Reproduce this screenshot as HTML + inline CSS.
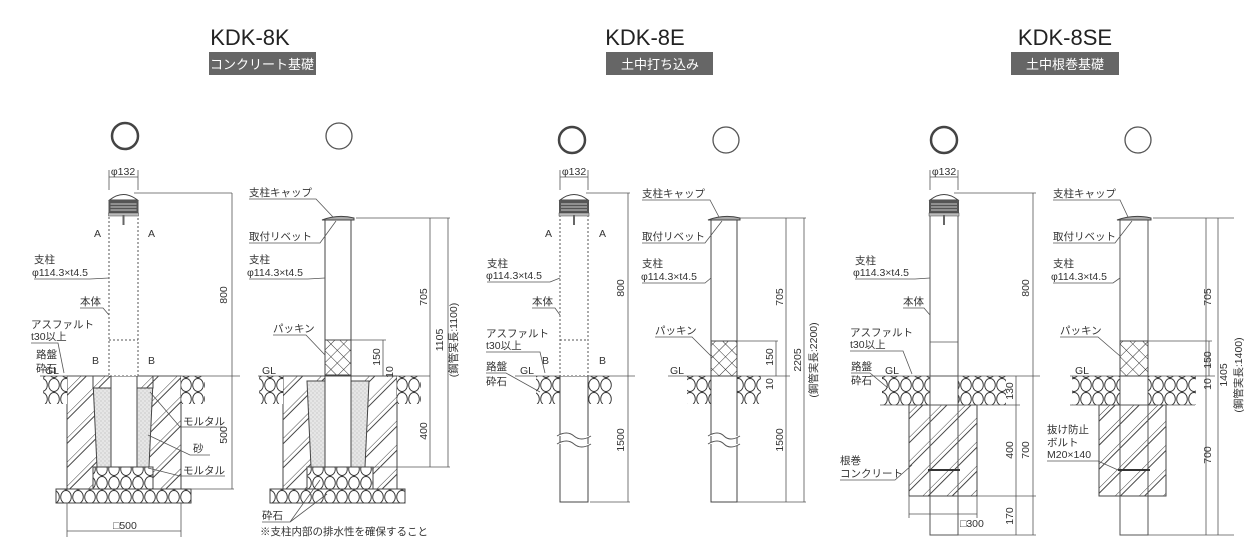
<!DOCTYPE html>
<html><head><meta charset="utf-8"><style>
html,body{margin:0;padding:0;background:#fff;}
svg{display:block;font-family:"Liberation Sans","Noto Sans CJK JP",sans-serif;}
.t{font-size:10.5px;fill:#333;}
.ttl{font-size:22px;fill:#222;}
.bd{font-size:13px;fill:#fff;}
.l{stroke:#555;stroke-width:0.8;fill:none;}
.p{stroke:#444;stroke-width:1;fill:#fff;}
</style></head><body>
<svg width="1248" height="549" viewBox="0 0 1248 549" xmlns="http://www.w3.org/2000/svg">
<defs>
<pattern id="gv" width="12" height="14" patternUnits="userSpaceOnUse">
<rect width="12" height="14" fill="#fff"/>
<ellipse cx="6" cy="7" rx="5.3" ry="6.5" fill="none" stroke="#333" stroke-width="0.9"/>
</pattern>
<pattern id="ht" width="17" height="17" patternUnits="userSpaceOnUse" patternTransform="rotate(45)">
<rect width="17" height="17" fill="#fff"/>
<line x1="0" y1="0" x2="0" y2="17" stroke="#444" stroke-width="1"/>
<line x1="4" y1="0" x2="4" y2="17" stroke="#444" stroke-width="1"/>
</pattern>
<pattern id="sd" width="4" height="4" patternUnits="userSpaceOnUse">
<rect width="4" height="4" fill="#e6e6e6"/><circle cx="1" cy="1" r="0.5" fill="#999"/><circle cx="3" cy="3" r="0.5" fill="#aaa"/>
</pattern>
<pattern id="cr" width="9" height="9" patternUnits="userSpaceOnUse" patternTransform="rotate(45)">
<rect width="9" height="9" fill="#fff"/>
<line x1="0" y1="0" x2="9" y2="0" stroke="#333" stroke-width="1"/>
<line x1="0" y1="0" x2="0" y2="9" stroke="#333" stroke-width="1"/>
</pattern>
<g id="cap">
<path d="M-14,7 Q0,-4 14,7 Z" fill="#fff" stroke="#444"/>
<rect x="-15" y="7" width="30" height="15" fill="#555"/>
<line x1="-13" y1="11" x2="13" y2="11" stroke="#ccc"/><line x1="-13" y1="14" x2="13" y2="14" stroke="#ccc"/><line x1="-13" y1="17" x2="13" y2="17" stroke="#ccc"/>
<rect x="-15" y="20" width="30" height="3" fill="#bbb" stroke="#444" stroke-width="0.5"/>
<line x1="0" y1="22" x2="0" y2="32" stroke="#666" stroke-width="2"/>
</g>
</defs>

<text x="250" y="45" text-anchor="middle" class="ttl">KDK-8K</text>
<rect x="209" y="52" width="107" height="23" fill="#666"/>
<text x="262" y="69" text-anchor="middle" class="bd">コンクリート基礎</text>
<text x="645" y="45" text-anchor="middle" class="ttl">KDK-8E</text>
<rect x="606" y="52" width="107" height="23" fill="#666"/>
<text x="660" y="69" text-anchor="middle" class="bd">土中打ち込み</text>
<text x="1065" y="45" text-anchor="middle" class="ttl">KDK-8SE</text>
<rect x="1011" y="52" width="108" height="23" fill="#666"/>
<text x="1065" y="69" text-anchor="middle" class="bd">土中根巻基礎</text>

<circle cx="125" cy="136" r="13" fill="none" stroke="#444" stroke-width="2.5"/>
<circle cx="339" cy="136" r="13" fill="none" stroke="#555" stroke-width="1.3"/>
<circle cx="572" cy="140" r="13" fill="none" stroke="#444" stroke-width="2.5"/>
<circle cx="726" cy="140" r="13" fill="none" stroke="#555" stroke-width="1.3"/>
<circle cx="944" cy="140" r="13" fill="none" stroke="#444" stroke-width="2.5"/>
<circle cx="1138" cy="140" r="13" fill="none" stroke="#555" stroke-width="1.3"/>

<!-- PANEL 1 -->
<g>
<rect x="56" y="489" width="135" height="14" fill="url(#gv)" stroke="#444"/>
<rect x="67" y="376" width="114" height="113" fill="url(#ht)" stroke="#444"/>
<path d="M93,381 L153,381 L149,467 L97,467 Z" fill="url(#sd)" stroke="#444"/>
<rect x="93" y="467" width="60" height="22" fill="url(#gv)" stroke="#444"/>
<rect x="93" y="376" width="60" height="12" fill="url(#ht)" stroke="#444"/>
<rect x="111" y="376" width="26" height="91" fill="#fff" stroke="#444"/>
<rect x="43" y="376" width="24" height="28" fill="url(#gv)"/>
<rect x="181" y="376" width="24" height="28" fill="url(#gv)"/>
<line x1="40" y1="376" x2="240" y2="376" class="l"/>
<rect x="109" y="215" width="29" height="161" fill="#fff" stroke="#555" stroke-dasharray="2,2"/>
<line x1="109" y1="340" x2="138" y2="340" stroke="#555" stroke-dasharray="2,2"/>
<use href="#cap" x="123.5" y="193"/>
<line x1="109" y1="170" x2="109" y2="190" class="l"/><line x1="138" y1="170" x2="138" y2="190" class="l"/>
<line x1="109" y1="177" x2="138" y2="177" class="l"/>
<text x="123" y="175" text-anchor="middle" class="t">φ132</text>
<text x="94" y="237" class="t">A</text><text x="148" y="237" class="t">A</text>
<text x="92" y="364" class="t">B</text><text x="148" y="364" class="t">B</text>
<line x1="134" y1="193" x2="232" y2="193" class="l"/>
<line x1="232" y1="193" x2="232" y2="489" class="l"/>
<line x1="191" y1="489" x2="234" y2="489" class="l"/>
<text transform="translate(227,295) rotate(-90)" text-anchor="middle" class="t">800</text>
<text transform="translate(227,435) rotate(-90)" text-anchor="middle" class="t">500</text>
<line x1="67" y1="503" x2="67" y2="537" class="l"/><line x1="181" y1="503" x2="181" y2="537" class="l"/>
<line x1="67" y1="531" x2="181" y2="531" class="l"/>
<text x="113" y="529" class="t">□500</text>
<text x="34" y="263" class="t">支柱</text><text x="32" y="276" class="t">φ114.3×t4.5</text>
<path d="M34,279 L90,279 L109,278" class="l"/>
<text x="80" y="305" class="t">本体</text><path d="M80,308 L103,308 L109,315" class="l"/>
<text x="31" y="328" class="t">アスファルト</text><text x="31" y="340" class="t">t30以上</text>
<path d="M31,343 L58,343 L64,373" class="l"/>
<text x="36" y="358" class="t">路盤</text><text x="36" y="372" class="t">砕石</text>
<text x="45" y="374" class="t">GL</text>
<text x="183" y="425" class="t">モルタル</text><path d="M150,392 L180,427 L225,427" class="l"/>
<text x="193" y="452" class="t">砂</text><path d="M148,435 L190,455 L210,455" class="l"/>
<text x="183" y="474" class="t">モルタル</text><path d="M148,468 L180,476 L225,476" class="l"/>
</g>

<!-- PANEL 2 -->
<g>
<rect x="270" y="489" width="135" height="14" fill="url(#gv)" stroke="#444"/>
<rect x="283" y="376" width="114" height="113" fill="url(#ht)" stroke="#444"/>
<path d="M307,381 L325,381 L325,467 L311,467 Z" fill="url(#sd)" stroke="#444"/>
<path d="M351,381 L369,381 L365,467 L351,467 Z" fill="url(#sd)" stroke="#444"/>
<rect x="307" y="467" width="66" height="22" fill="url(#gv)" stroke="#444"/>
<rect x="325" y="376" width="26" height="91" fill="#fff" stroke="#444"/>
<rect x="259" y="376" width="24" height="28" fill="url(#gv)"/>
<rect x="397" y="376" width="24" height="28" fill="url(#gv)"/>
<line x1="258" y1="376" x2="430" y2="376" class="l"/>
<rect x="325" y="220" width="26" height="156" class="p"/>
<rect x="325" y="340" width="26" height="35" fill="url(#cr)" stroke="#444"/>
<path d="M322,220 Q338,214 354,218 L354,220 Z" fill="#aaa" stroke="#444"/>
<line x1="356" y1="218" x2="450" y2="218" class="l"/>
<line x1="430" y1="218" x2="430" y2="467" class="l"/>
<line x1="448" y1="218" x2="448" y2="467" class="l"/>
<line x1="369" y1="467" x2="450" y2="467" class="l"/>
<line x1="351" y1="340" x2="386" y2="340" class="l"/>
<line x1="383" y1="340" x2="383" y2="376" class="l"/>
<text transform="translate(427,297) rotate(-90)" text-anchor="middle" class="t">705</text>
<text transform="translate(443,340) rotate(-90)" text-anchor="middle" class="t">1105</text>
<text transform="translate(457,340) rotate(-90)" text-anchor="middle" class="t">(鋼管実長:1100)</text>
<text transform="translate(380,357) rotate(-90)" text-anchor="middle" class="t">150</text>
<text transform="translate(393,372) rotate(-90)" text-anchor="middle" class="t">10</text>
<text transform="translate(427,431) rotate(-90)" text-anchor="middle" class="t">400</text>
<text x="249" y="196" class="t">支柱キャップ</text><path d="M249,199 L316,199 L333,217" class="l"/>
<text x="249" y="240" class="t">取付リベット</text><path d="M249,243 L320,243 L336,221" class="l"/>
<text x="249" y="263" class="t">支柱</text><text x="247" y="276" class="t">φ114.3×t4.5</text>
<path d="M249,279 L308,279 L325,278" class="l"/>
<text x="273" y="332" class="t">パッキン</text><path d="M273,335 L306,335 L325,355" class="l"/>
<text x="262" y="374" class="t">GL</text>
<text x="262" y="519" class="t">砕石</text><path d="M262,522 L290,522 L320,480 M290,522 L327,494" class="l"/>
<text x="260" y="535" class="t">※支柱内部の排水性を確保すること</text>
</g>

<!-- PANEL 3 -->
<g>
<rect x="536" y="376" width="24" height="28" fill="url(#gv)"/>
<rect x="588" y="376" width="24" height="28" fill="url(#gv)"/>
<line x1="515" y1="376" x2="635" y2="376" class="l"/>
<rect x="560" y="376" width="28" height="126" class="p"/>
<path d="M557,436 Q567,430 574,436 T591,436 M557,444 Q567,438 574,444 T591,444" stroke="#555" fill="#fff"/>
<rect x="560" y="215" width="28" height="161" fill="#fff" stroke="#555" stroke-dasharray="2,2"/>
<line x1="560" y1="340" x2="588" y2="340" stroke="#555" stroke-dasharray="2,2"/>
<use href="#cap" x="574" y="193"/>
<line x1="560" y1="170" x2="560" y2="190" class="l"/><line x1="588" y1="170" x2="588" y2="190" class="l"/>
<line x1="560" y1="177" x2="588" y2="177" class="l"/>
<text x="574" y="175" text-anchor="middle" class="t">φ132</text>
<text x="545" y="237" class="t">A</text><text x="599" y="237" class="t">A</text>
<text x="542" y="364" class="t">B</text><text x="599" y="364" class="t">B</text>
<line x1="586" y1="193" x2="630" y2="193" class="l"/>
<line x1="628" y1="193" x2="628" y2="502" class="l"/>
<line x1="590" y1="502" x2="630" y2="502" class="l"/>
<text transform="translate(624,288) rotate(-90)" text-anchor="middle" class="t">800</text>
<text transform="translate(624,440) rotate(-90)" text-anchor="middle" class="t">1500</text>
<text x="487" y="267" class="t">支柱</text><text x="486" y="279" class="t">φ114.3×t4.5</text>
<path d="M487,282 L550,282 L560,278" class="l"/>
<text x="532" y="305" class="t">本体</text><path d="M532,308 L555,308 L560,315" class="l"/>
<text x="486" y="337" class="t">アスファルト</text><text x="486" y="349" class="t">t30以上</text>
<path d="M486,352 L540,352 L545,373" class="l"/>
<text x="486" y="370" class="t">路盤</text><text x="486" y="385" class="t">砕石</text>
<path d="M486,373 L506,373 L540,392" class="l"/>
<text x="520" y="374" class="t">GL</text>
</g>

<!-- PANEL 4 -->
<g>
<rect x="687" y="376" width="24" height="28" fill="url(#gv)"/>
<rect x="737" y="376" width="24" height="28" fill="url(#gv)"/>
<line x1="668" y1="376" x2="790" y2="376" class="l"/>
<rect x="711" y="220" width="26" height="282" class="p"/>
<path d="M708,436 Q718,430 724,436 T740,436 M708,444 Q718,438 724,444 T740,444" stroke="#555" fill="#fff"/>
<rect x="711" y="341" width="26" height="35" fill="url(#cr)" stroke="#444"/>
<path d="M708,220 Q724,214 740,218 L740,220 Z" fill="#aaa" stroke="#444"/>
<line x1="740" y1="218" x2="806" y2="218" class="l"/>
<line x1="786" y1="218" x2="786" y2="502" class="l"/>
<line x1="804" y1="218" x2="804" y2="502" class="l"/>
<line x1="737" y1="502" x2="806" y2="502" class="l"/>
<line x1="737" y1="341" x2="778" y2="341" class="l"/>
<line x1="776" y1="341" x2="776" y2="376" class="l"/>
<text transform="translate(783,297) rotate(-90)" text-anchor="middle" class="t">705</text>
<text transform="translate(801,360) rotate(-90)" text-anchor="middle" class="t">2205</text>
<text transform="translate(817,360) rotate(-90)" text-anchor="middle" class="t">(鋼管実長:2200)</text>
<text transform="translate(773,357) rotate(-90)" text-anchor="middle" class="t">150</text>
<text transform="translate(773,384) rotate(-90)" text-anchor="middle" class="t">10</text>
<text transform="translate(783,440) rotate(-90)" text-anchor="middle" class="t">1500</text>
<text x="642" y="197" class="t">支柱キャップ</text><path d="M642,200 L710,200 L719,217" class="l"/>
<text x="642" y="240" class="t">取付リベット</text><path d="M642,243 L705,243 L722,221" class="l"/>
<text x="642" y="267" class="t">支柱</text><text x="641" y="280" class="t">φ114.3×t4.5</text>
<path d="M642,283 L705,283 L711,278" class="l"/>
<text x="655" y="334" class="t">パッキン</text><path d="M655,337 L692,337 L711,356" class="l"/>
<text x="670" y="374" class="t">GL</text>
</g>

<!-- PANEL 5 -->
<g>
<rect x="882" y="376" width="48" height="29" fill="url(#gv)"/>
<rect x="958" y="376" width="48" height="29" fill="url(#gv)"/>
<rect x="909" y="405" width="68" height="91" fill="url(#ht)" stroke="#444"/>
<line x1="870" y1="376" x2="1040" y2="376" class="l"/>
<line x1="880" y1="405" x2="1020" y2="405" class="l"/>
<rect x="930" y="200" width="28" height="335" fill="none" stroke="#555"/>
<line x1="930" y1="342" x2="958" y2="342" class="l"/>
<rect x="930" y="376" width="28" height="29" fill="#fff" stroke="#555"/>
<line x1="928" y1="470" x2="960" y2="470" stroke="#333" stroke-width="2"/>
<use href="#cap" x="944" y="193"/>
<line x1="930" y1="170" x2="930" y2="190" class="l"/><line x1="958" y1="170" x2="958" y2="190" class="l"/>
<line x1="930" y1="177" x2="958" y2="177" class="l"/>
<text x="944" y="175" text-anchor="middle" class="t">φ132</text>
<line x1="954" y1="193" x2="1036" y2="193" class="l"/>
<line x1="1033" y1="193" x2="1033" y2="535" class="l"/>
<line x1="1016" y1="376" x2="1016" y2="535" class="l"/>
<line x1="977" y1="496" x2="1036" y2="496" class="l"/>
<line x1="958" y1="535" x2="1036" y2="535" class="l"/>
<line x1="909" y1="496" x2="909" y2="518" class="l"/><line x1="977" y1="496" x2="977" y2="518" class="l"/>
<line x1="909" y1="514" x2="977" y2="514" class="l"/>
<text x="960" y="527" class="t">□300</text>
<text transform="translate(1029,288) rotate(-90)" text-anchor="middle" class="t">800</text>
<text transform="translate(1013,391) rotate(-90)" text-anchor="middle" class="t">130</text>
<text transform="translate(1013,450) rotate(-90)" text-anchor="middle" class="t">400</text>
<text transform="translate(1029,450) rotate(-90)" text-anchor="middle" class="t">700</text>
<text transform="translate(1013,516) rotate(-90)" text-anchor="middle" class="t">170</text>
<text x="855" y="264" class="t">支柱</text><text x="853" y="276" class="t">φ114.3×t4.5</text>
<path d="M855,279 L915,279 L930,278" class="l"/>
<text x="903" y="305" class="t">本体</text><path d="M903,308 L924,308 L930,315" class="l"/>
<text x="850" y="336" class="t">アスファルト</text><text x="850" y="348" class="t">t30以上</text>
<path d="M850,351 L903,351 L912,374" class="l"/>
<text x="851" y="370" class="t">路盤</text><text x="851" y="384" class="t">砕石</text>
<path d="M851,373 L870,373 L888,388" class="l"/>
<text x="885" y="374" class="t">GL</text>
<text x="840" y="464" class="t">根巻</text><text x="840" y="477" class="t">コンクリート</text>
<path d="M840,480 L895,480 L912,465" class="l"/>
</g>

<!-- PANEL 6 -->
<g>
<rect x="1072" y="376" width="48" height="29" fill="url(#gv)"/>
<rect x="1148" y="376" width="48" height="29" fill="url(#gv)"/>
<rect x="1099" y="405" width="67" height="91" fill="url(#ht)" stroke="#444"/>
<line x1="1070" y1="376" x2="1215" y2="376" class="l"/>
<line x1="1070" y1="405" x2="1195" y2="405" class="l"/>
<rect x="1120" y="220" width="28" height="315" fill="none" stroke="#555"/>
<rect x="1120" y="376" width="28" height="29" fill="#fff" stroke="#555"/>
<rect x="1120" y="341" width="28" height="35" fill="url(#cr)" stroke="#444"/>
<line x1="1118" y1="470" x2="1150" y2="470" stroke="#333" stroke-width="2"/>
<path d="M1117,220 Q1134,214 1151,218 L1151,220 Z" fill="#aaa" stroke="#444"/>
<line x1="1153" y1="218" x2="1234" y2="218" class="l"/>
<line x1="1206" y1="218" x2="1206" y2="535" class="l"/>
<line x1="1218" y1="218" x2="1218" y2="535" class="l"/>
<line x1="1148" y1="535" x2="1234" y2="535" class="l"/>
<line x1="1148" y1="341" x2="1212" y2="341" class="l"/>
<line x1="1209" y1="341" x2="1209" y2="376" class="l"/>
<text transform="translate(1211,297) rotate(-90)" text-anchor="middle" class="t">705</text>
<text transform="translate(1211,360) rotate(-90)" text-anchor="middle" class="t">150</text>
<text transform="translate(1211,384) rotate(-90)" text-anchor="middle" class="t">10</text>
<text transform="translate(1227,375) rotate(-90)" text-anchor="middle" class="t">1405</text>
<text transform="translate(1242,375) rotate(-90)" text-anchor="middle" class="t">(鋼管実長:1400)</text>
<text transform="translate(1211,455) rotate(-90)" text-anchor="middle" class="t">700</text>
<text x="1053" y="197" class="t">支柱キャップ</text><path d="M1053,200 L1120,200 L1128,217" class="l"/>
<text x="1053" y="240" class="t">取付リベット</text><path d="M1053,243 L1115,243 L1132,221" class="l"/>
<text x="1053" y="267" class="t">支柱</text><text x="1051" y="280" class="t">φ114.3×t4.5</text>
<path d="M1053,283 L1113,283 L1120,278" class="l"/>
<text x="1060" y="334" class="t">パッキン</text><path d="M1060,337 L1098,337 L1120,356" class="l"/>
<text x="1075" y="374" class="t">GL</text>
<text x="1047" y="433" class="t">抜け防止</text><text x="1047" y="446" class="t">ボルト</text><text x="1047" y="458" class="t">M20×140</text>
<path d="M1047,461 L1098,461 L1118,470" class="l"/>
</g>
</svg>
</body></html>
